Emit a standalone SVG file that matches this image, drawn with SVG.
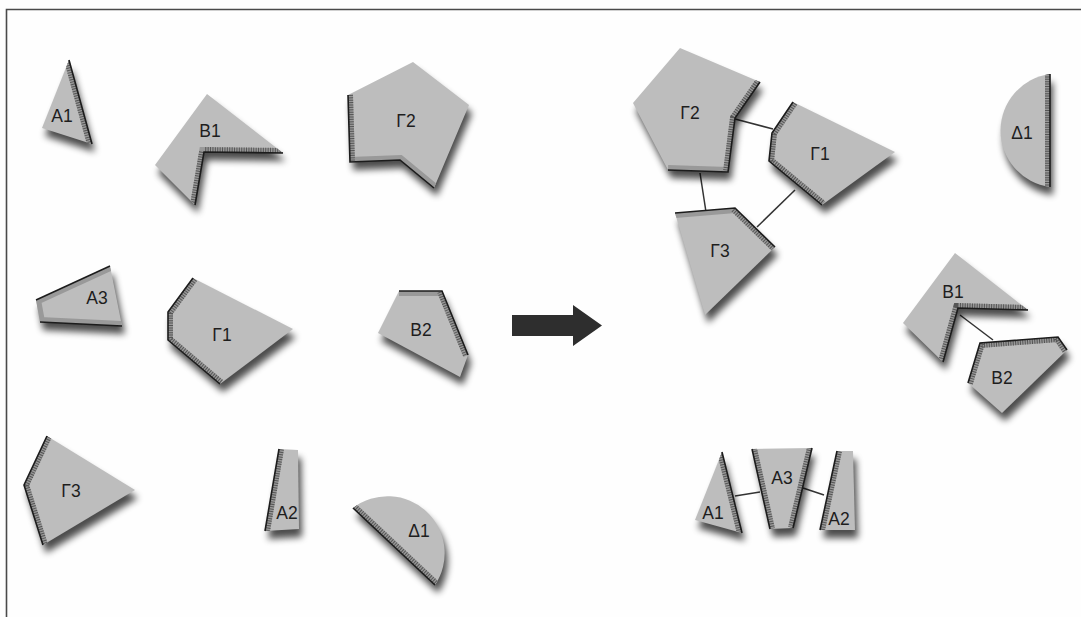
<svg xmlns="http://www.w3.org/2000/svg" xmlns:xlink="http://www.w3.org/1999/xlink" width="1081" height="617" viewBox="0 0 1081 617">
<style>
.bg{fill:#fefefe}
.frame{stroke:#4a4a4a;stroke-width:1.6;fill:none}
.sh{fill:#000;opacity:.7;filter:url(#blur)}
.face{fill:#bdbdbd}
.band{fill:none;stroke:#999;stroke-width:10;stroke-linejoin:miter}
.hatch{fill:none;stroke:#555;stroke-width:10;stroke-dasharray:1 1.4}
.edge{fill:none;stroke:#1c1c1c;stroke-width:1.6;stroke-linejoin:miter}
.lbl{font-family:"Liberation Sans",Arial,sans-serif;font-size:17.5px;fill:#1e1e1e;text-anchor:middle}
.con{stroke:#333;stroke-width:1.5;fill:none}
</style>
<defs>
<filter id="blur" x="-30%" y="-30%" width="160%" height="160%">
<feOffset dx="3" dy="8"/>
<feGaussianBlur stdDeviation="3.5"/>
</filter>
<polygon id="p-la1" points="69,60 42,128 92,144"/>
<polygon id="p-lb1" points="207,94 283,153 204,152 195,205 155,165"/>
<polygon id="p-lg2" points="413,62 469,105 434,188 400,160 350,162 348,95"/>
<polygon id="p-la3" points="110,266 122,326 40,322 36,300"/>
<polygon id="p-lg1" points="193,278 293,329 220,384 168,340 168,312"/>
<polygon id="p-lb2" points="399,291 442,291 468,355 460,377 378,333"/>
<polygon id="p-lg3" points="47,436 135,490 43,545 24,485"/>
<polygon id="p-la2" points="279,449 298,450 299,529 265,531"/>
<path id="p-ld1" d="M353,508 A57,57 0 0 1 435,585 Z"/>
<polygon id="p-rg2" points="680,48 760,82 735,118 728,172 668,170 633,103"/>
<polygon id="p-rg1" points="793,102 895,152 822,205 769,161 772,133"/>
<polygon id="p-rg3" points="675,213 735,208 775,247 705,315"/>
<path id="p-rd1" d="M1050,187 A57,57 0 0 1 1050,74 Z"/>
<polygon id="p-rb1" points="955,253 1028,310 958,308 943,362 903,323"/>
<polygon id="p-rb2" points="980,343 1058,337 1067,350 1002,413 968,383"/>
<polygon id="p-ra1" points="722,452 742,533 695,520"/>
<polygon id="p-ra3" points="752,449 812,448 793,528 770,529"/>
<polygon id="p-ra2" points="837,451 853,451 855,530 820,530"/>
<clipPath id="c-la1"><use xlink:href="#p-la1"/></clipPath>
<clipPath id="c-lb1"><use xlink:href="#p-lb1"/></clipPath>
<clipPath id="c-lg2"><use xlink:href="#p-lg2"/></clipPath>
<clipPath id="c-la3"><use xlink:href="#p-la3"/></clipPath>
<clipPath id="c-lg1"><use xlink:href="#p-lg1"/></clipPath>
<clipPath id="c-lb2"><use xlink:href="#p-lb2"/></clipPath>
<clipPath id="c-lg3"><use xlink:href="#p-lg3"/></clipPath>
<clipPath id="c-la2"><use xlink:href="#p-la2"/></clipPath>
<clipPath id="c-ld1"><use xlink:href="#p-ld1"/></clipPath>
<clipPath id="c-rg2"><use xlink:href="#p-rg2"/></clipPath>
<clipPath id="c-rg1"><use xlink:href="#p-rg1"/></clipPath>
<clipPath id="c-rg3"><use xlink:href="#p-rg3"/></clipPath>
<clipPath id="c-rd1"><use xlink:href="#p-rd1"/></clipPath>
<clipPath id="c-rb1"><use xlink:href="#p-rb1"/></clipPath>
<clipPath id="c-rb2"><use xlink:href="#p-rb2"/></clipPath>
<clipPath id="c-ra1"><use xlink:href="#p-ra1"/></clipPath>
<clipPath id="c-ra3"><use xlink:href="#p-ra3"/></clipPath>
<clipPath id="c-ra2"><use xlink:href="#p-ra2"/></clipPath>
</defs>
<rect class="bg" x="0" y="0" width="1081" height="617"/>
<g id="frame">
<polyline class="frame" points="6.5,617 6.5,9.5 1081,9.5"/>
</g>

<g id="connectors">
<line class="con" x1="735" y1="119" x2="773" y2="129"/>
<line class="con" x1="700" y1="173" x2="706" y2="212"/>
<line class="con" x1="795" y1="190" x2="757" y2="227"/>
<line class="con" x1="960" y1="315" x2="993" y2="340"/>
<line class="con" x1="735" y1="496" x2="760" y2="492"/>
<line class="con" x1="803" y1="488" x2="824" y2="495"/>
</g>

<g id="arrow">
<polygon points="512,315 573,315 573,305 602,325.5 573,346 573,336 512,336" fill="#2e2e2e"/>
</g>

<g id="left-A1">
<use xlink:href="#p-la1" class="sh"/><use xlink:href="#p-la1" class="face"/>
<g clip-path="url(#c-la1)"><polyline class="band" points="69,60 92,144"/><polyline class="hatch" points="69,60 92,144"/></g>
<polyline class="edge" points="69,60 92,144"/>
<text class="lbl" x="62" y="122">A1</text>
</g>
<g id="left-B1">
<use xlink:href="#p-lb1" class="sh"/><use xlink:href="#p-lb1" class="face"/>
<g clip-path="url(#c-lb1)"><polyline class="band" points="283,153 204,152 195,205"/><polyline class="hatch" points="283,153 204,152 195,205"/></g>
<polyline class="edge" points="283,153 204,152 195,205"/>
<text class="lbl" x="210" y="137">B1</text>
</g>
<g id="left-G2">
<use xlink:href="#p-lg2" class="sh"/><use xlink:href="#p-lg2" class="face"/>
<g clip-path="url(#c-lg2)"><polyline class="band" points="348,95 350,162 400,160 434,188"/><polyline class="hatch" points="348,95 350,162"/></g>
<polyline class="edge" points="348,95 350,162 400,160 434,188"/>
<text class="lbl" x="406" y="127">Γ2</text>
</g>
<g id="left-A3">
<use xlink:href="#p-la3" class="sh"/><use xlink:href="#p-la3" class="face"/>
<g clip-path="url(#c-la3)"><polyline class="band" points="110,266 36,300 40,322 122,326"/></g>
<polyline class="edge" points="110,266 36,300"/><polyline class="edge" points="40,322 122,326"/>
<text class="lbl" x="97" y="304">A3</text>
</g>
<g id="left-G1">
<use xlink:href="#p-lg1" class="sh"/><use xlink:href="#p-lg1" class="face"/>
<g clip-path="url(#c-lg1)"><polyline class="band" points="193,278 168,312 168,340 220,384"/><polyline class="hatch" points="193,278 168,312 168,340 220,384"/></g>
<polyline class="edge" points="193,278 168,312 168,340 220,384"/>
<text class="lbl" x="222" y="341">Γ1</text>
</g>
<g id="left-B2">
<use xlink:href="#p-lb2" class="sh"/><use xlink:href="#p-lb2" class="face"/>
<g clip-path="url(#c-lb2)"><polyline class="band" points="399,291 442,291 468,355"/><polyline class="hatch" points="442,291 468,355"/></g>
<polyline class="edge" points="399,291 442,291 468,355"/>
<text class="lbl" x="421" y="336">B2</text>
</g>
<g id="left-G3">
<use xlink:href="#p-lg3" class="sh"/><use xlink:href="#p-lg3" class="face"/>
<g clip-path="url(#c-lg3)"><polyline class="band" points="47,436 24,485 43,545"/><polyline class="hatch" points="47,436 24,485 43,545"/></g>
<polyline class="edge" points="47,436 24,485 43,545"/>
<text class="lbl" x="71" y="497">Γ3</text>
</g>
<g id="left-A2">
<use xlink:href="#p-la2" class="sh"/><use xlink:href="#p-la2" class="face"/>
<g clip-path="url(#c-la2)"><polyline class="band" points="279,449 265,531"/><polyline class="hatch" points="279,449 265,531"/></g>
<polyline class="edge" points="279,449 265,531"/>
<text class="lbl" x="287" y="519">A2</text>
</g>
<g id="left-D1">
<use xlink:href="#p-ld1" class="sh"/><use xlink:href="#p-ld1" class="face"/>
<g clip-path="url(#c-ld1)"><polyline class="band" points="353,508 435,585"/><polyline class="hatch" points="353,508 435,585"/></g>
<polyline class="edge" points="353,508 435,585"/>
<text class="lbl" x="419" y="537">Δ1</text>
</g>

<g id="right-G2">
<use xlink:href="#p-rg2" class="sh"/><use xlink:href="#p-rg2" class="face"/>
<g clip-path="url(#c-rg2)"><polyline class="band" points="760,82 735,118 728,172 668,170"/><polyline class="hatch" points="760,82 735,118 728,172"/></g>
<polyline class="edge" points="760,82 735,118 728,172 668,170"/>
<text class="lbl" x="690" y="119">Γ2</text>
</g>
<g id="right-G1">
<use xlink:href="#p-rg1" class="sh"/><use xlink:href="#p-rg1" class="face"/>
<g clip-path="url(#c-rg1)"><polyline class="band" points="793,102 772,133 769,161 822,205"/><polyline class="hatch" points="793,102 772,133 769,161 822,205"/></g>
<polyline class="edge" points="793,102 772,133 769,161 822,205"/>
<text class="lbl" x="820" y="160">Γ1</text>
</g>
<g id="right-G3">
<use xlink:href="#p-rg3" class="sh"/><use xlink:href="#p-rg3" class="face"/>
<g clip-path="url(#c-rg3)"><polyline class="band" points="675,213 735,208 775,247"/><polyline class="hatch" points="735,208 775,247"/></g>
<polyline class="edge" points="675,213 735,208 775,247"/>
<text class="lbl" x="720" y="257">Γ3</text>
</g>
<g id="right-D1">
<use xlink:href="#p-rd1" class="sh"/><use xlink:href="#p-rd1" class="face"/>
<g clip-path="url(#c-rd1)"><polyline class="band" points="1050,74 1050,187"/><polyline class="hatch" points="1050,74 1050,187"/></g>
<polyline class="edge" points="1050,74 1050,187"/>
<text class="lbl" x="1022" y="139">Δ1</text>
</g>
<g id="right-B1">
<use xlink:href="#p-rb1" class="sh"/><use xlink:href="#p-rb1" class="face"/>
<g clip-path="url(#c-rb1)"><polyline class="band" points="1028,310 958,308 943,362"/><polyline class="hatch" points="1028,310 958,308 943,362"/></g>
<polyline class="edge" points="1028,310 958,308 943,362"/>
<text class="lbl" x="953" y="298">B1</text>
</g>
<g id="right-B2">
<use xlink:href="#p-rb2" class="sh"/><use xlink:href="#p-rb2" class="face"/>
<g clip-path="url(#c-rb2)"><polyline class="band" points="968,383 980,343 1058,337 1067,350"/><polyline class="hatch" points="968,383 980,343 1058,337 1067,350"/></g>
<polyline class="edge" points="968,383 980,343 1058,337 1067,350"/>
<text class="lbl" x="1002" y="384">B2</text>
</g>
<g id="right-A1">
<use xlink:href="#p-ra1" class="sh"/><use xlink:href="#p-ra1" class="face"/>
<g clip-path="url(#c-ra1)"><polyline class="band" points="722,452 742,533"/><polyline class="hatch" points="722,452 742,533"/></g>
<polyline class="edge" points="722,452 742,533"/>
<text class="lbl" x="713" y="519">A1</text>
</g>
<g id="right-A3">
<use xlink:href="#p-ra3" class="sh"/><use xlink:href="#p-ra3" class="face"/>
<g clip-path="url(#c-ra3)"><polyline class="band" points="752,449 770,529"/><polyline class="hatch" points="752,449 770,529"/><polyline class="band" points="812,448 793,528"/><polyline class="hatch" points="812,448 793,528"/></g>
<polyline class="edge" points="752,449 770,529"/><polyline class="edge" points="812,448 793,528"/>
<text class="lbl" x="782" y="484">A3</text>
</g>
<g id="right-A2">
<use xlink:href="#p-ra2" class="sh"/><use xlink:href="#p-ra2" class="face"/>
<g clip-path="url(#c-ra2)"><polyline class="band" points="837,451 820,530"/><polyline class="hatch" points="837,451 820,530"/></g>
<polyline class="edge" points="837,451 820,530"/>
<text class="lbl" x="839" y="525">A2</text>
</g>
</svg>
